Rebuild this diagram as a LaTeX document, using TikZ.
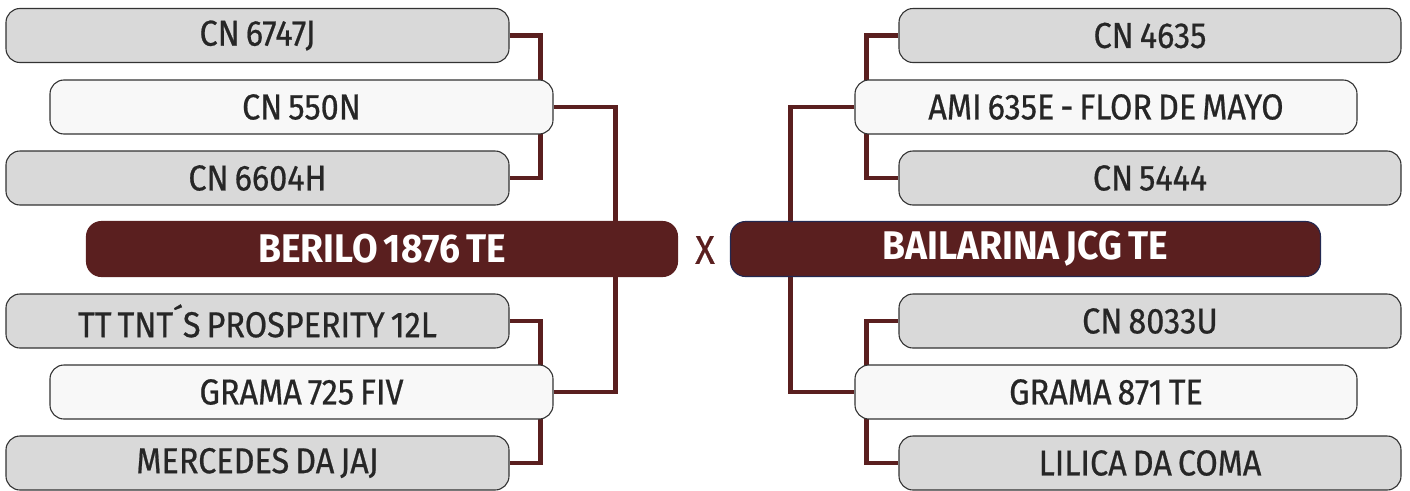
\documentclass[tikz,border=0pt]{standalone}
\usepackage{fontspec}
\setmainfont{Fira Sans}[FakeStretch=0.9,WordSpace=0.7,FakeBold=0.6]
\newfontfamily\titlefont{Fira Sans}[FakeStretch=0.93,WordSpace=0.7]
\usetikzlibrary{backgrounds}
\definecolor{maroon}{RGB}{90,31,31}
\definecolor{boxgray}{RGB}{217,217,217}
\definecolor{boxwhite}{RGB}{248,248,248}
\definecolor{navyline}{RGB}{35,40,80}
\begin{document}
\begin{tikzpicture}[x=1pt,y=-1pt,
  entry/.style={draw=black!80,line width=1.1pt,rounded corners=14pt,fill=boxgray,
    minimum width=503pt,minimum height=54pt,inner sep=0pt,
    font=\fontsize{36}{40}\selectfont,text=black!85},
  seed/.style={entry,fill=boxwhite},
  finalist/.style={rounded corners=15pt,fill=maroon,draw=maroon,line width=1.1pt,
    minimum width=591pt,minimum height=55pt,inner sep=0pt,
    font=\titlefont\fontsize{40}{44}\selectfont\bfseries,text=white},
  link/.style={draw=maroon,line width=4.5pt}]
\useasboundingbox (0,0) rectangle (1410,490);
% left bracket
\node[entry] (ln1) at (257.5,35.5) {CN 6747J};
\node[seed] (ln2) at (301.5,107) {CN 550N};
\node[entry] (ln3) at (257.5,178) {CN 6604H};
\node[finalist] (lfin) at (382,249) {BERILO 1876 TE};
\node[entry] (ls1) at (257.5,321) {TT TNT´S PROSPERITY 12L};
\node[seed] (ls2) at (301.5,392) {GRAMA 725 FIV};
\node[entry] (ls3) at (257.5,463) {MERCEDES DA JAJ};
% versus
\node[text=maroon,font=\fontsize{40}{44}\selectfont] (vs) at (705,250) {X};
% right bracket
\node[entry,minimum width=502pt] (rn1) at (1150,35.5) {CN 4635};
\node[seed,minimum width=502pt] (rn2) at (1106,107) {AMI 635E - FLOR DE MAYO};
\node[entry,minimum width=502pt] (rn3) at (1150,178) {CN 5444};
\node[finalist,draw=navyline,minimum width=590pt] (rfin) at (1025.5,249) {BAILARINA JCG TE};
\node[entry,minimum width=502pt] (rs1) at (1150,321) {CN 8033U};
\node[seed,minimum width=502pt] (rs2) at (1106,392) {GRAMA 871 TE};
\node[entry,minimum width=502pt] (rs3) at (1150,463) {LILICA DA COMA};
% connectors behind the boxes
\begin{scope}[on background layer]
\draw[link] (ln1.east) -- ++(31,0) |- (ln3.east);
\draw[link] (ls1.east) -- ++(31,0) |- (ls3.east);
\draw[link] (ln2.east) -- ++(62,0) |- (ls2.east);
\draw[link] (rn1.west) -- ++(-32,0) |- (rn3.west);
\draw[link] (rs1.west) -- ++(-32,0) |- (rs3.west);
\draw[link] (rn2.west) -- ++(-64,0) |- (rs2.west);
\end{scope}
\end{tikzpicture}
\end{document}
